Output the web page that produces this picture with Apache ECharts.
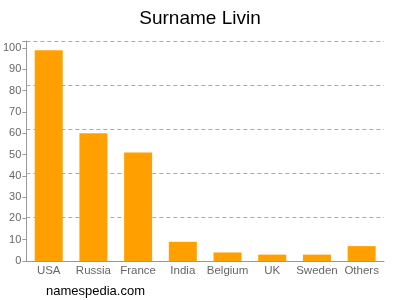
<!DOCTYPE html>
<html><head><meta charset="utf-8">
<script src="https://cdn.jsdelivr.net/npm/echarts@6/dist/echarts.min.js"></script>
<style>html,body{margin:0;padding:0;background:#fff}#c{width:400px;height:300px}</style>
</head><body><div id="c"></div>
<script>
const categories = ["USA","Russia","France","India","Belgium","UK","Sweden","Others"];
const values = [99, 60, 51, 9, 4, 3, 3, 7];
const yTicks = [0,10,20,30,40,50,60,70,80,90,100];
const chart = echarts.init(document.getElementById('c'), null, {renderer:'canvas'});
chart.setOption({
  animation:false,
  title:{text:"Surname Livin", left:'center', top:4, textStyle:{fontFamily:'Liberation Sans, Arial', fontSize:19, fontWeight:'normal', color:'#000'}},
  graphic:[{type:'text', left:46, top:285, style:{text:'namespedia.com', fontFamily:'Liberation Sans, Arial', fontSize:13, fill:'#000'}}],
  grid:{left:24, right:16, top:41, bottom:39},
  xAxis:{type:'category', data:categories,
    axisLine:{lineStyle:{color:'#999'}},
    axisTick:{alignWithLabel:true, length:4, lineStyle:{color:'#999'}},
    axisLabel:{interval:0, color:'#666', fontFamily:'Liberation Sans, Arial', fontSize:11.5, margin:4}},
  yAxis:[{type:'value', min:0, max:103.3, interval:10,
    axisLine:{show:true, lineStyle:{color:'#999'}},
    axisTick:{show:true, length:4, lineStyle:{color:'#999'}},
    axisLabel:{color:'#666', fontFamily:'Liberation Sans, Arial', fontSize:11, margin:5,
      formatter:function(v){return yTicks.indexOf(v)>=0? String(v):'';}},
    splitLine:{show:false}},
    {type:'value', min:0, max:5, interval:1, position:'left', show:true,
     axisLine:{show:false}, axisTick:{show:false}, axisLabel:{show:false},
     splitLine:{show:true, lineStyle:{color:'#aaa', type:[4,3], width:1}}}],
  series:[{type:'bar', data:values, yAxisIndex:0, barWidth:28, itemStyle:{color:'#FFA000'}}]
});
</script></body></html>
